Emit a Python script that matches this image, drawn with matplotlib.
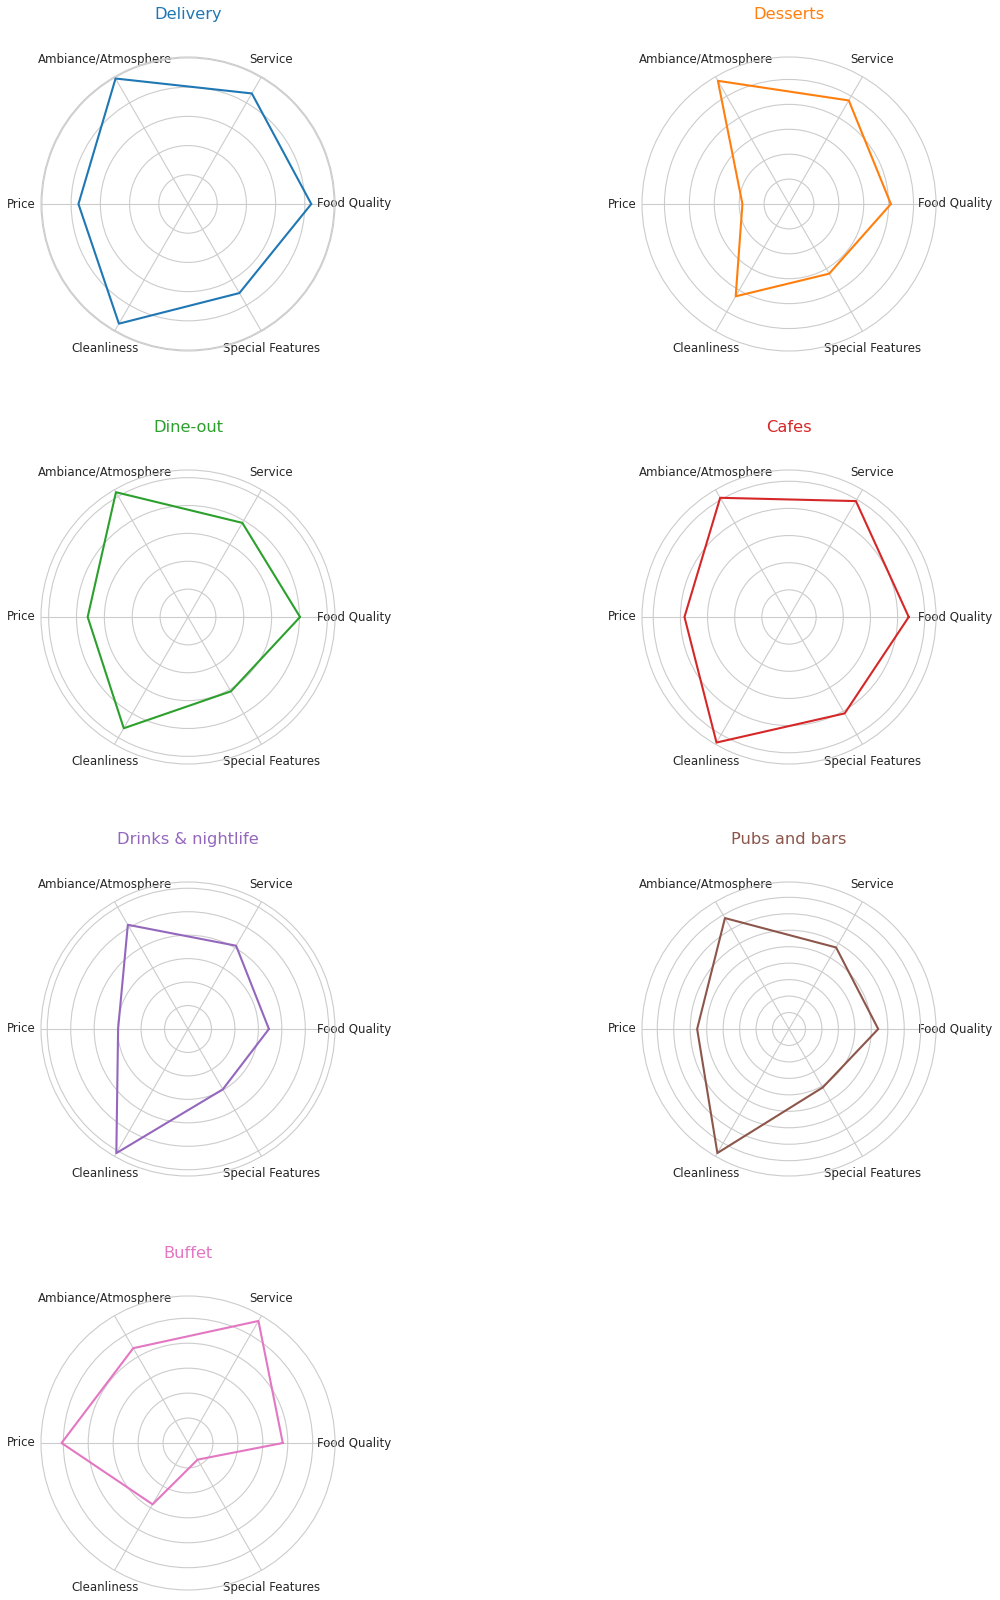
import numpy as np
import matplotlib
matplotlib.use('Agg')
import matplotlib.pyplot as plt
from matplotlib.ticker import NullFormatter
import seaborn as sns

categories = ['Food Quality', 'Service', 'Ambiance/Atmosphere', 'Price',
              'Cleanliness', 'Special Features']
cuisines = ['Delivery', 'Desserts', 'Dine-out', 'Cafes',
            'Drinks & nightlife', 'Pubs and bars', 'Buffet']

delivery = [4.22, 4.37, 4.96, 3.75, 4.73, 3.52]
desserts = [4.09, 4.80, 5.71, 1.87, 4.28, 3.23]
dine_out = [4.02, 3.90, 5.17, 3.60, 4.61, 3.08]
cafes = [4.41, 4.93, 5.07, 3.85, 5.34, 4.10]
drinks_nightlife = [3.45, 4.10, 5.13, 2.98, 6.11, 2.97]
pubs_and_bars = [2.71, 2.86, 3.89, 2.79, 4.35, 2.05]
buffet = [3.80, 5.65, 4.39, 5.07, 2.84, 0.77]

series = [delivery, desserts, dine_out, cafes, drinks_nightlife, pubs_and_bars, buffet]
colors = ['#1f77b4', '#ff7f0e', '#2ca02c', '#d62728', '#9467bd', '#8c564b', '#e377c2']

sns.set_style('whitegrid')
plt.rcParams['font.family'] = ['DejaVu Sans']

W, H = 1000, 1600
fig = plt.figure(figsize=(W / 100, H / 100), dpi=100)
centers_x = [188, 789]
centers_y = [204, 617, 1029, 1443]
R = 147

angles = np.linspace(0, 2 * np.pi, len(categories), endpoint=False)
for i, (name, vals, c) in enumerate(zip(cuisines, series, colors)):
    row, col = divmod(i, 2)
    cx, cy = centers_x[col], centers_y[row]
    ax = fig.add_axes([(cx - R) / W, 1 - (cy + R) / H, 2 * R / W, 2 * R / H],
                      projection='polar')
    a = np.concatenate([angles, angles[:1]])
    v = np.concatenate([vals, vals[:1]])
    ax.plot(a, v, color=c, linewidth=1.5)
    ax.set_xticks(angles)
    ax.set_xticklabels(categories, fontsize=8.5, color='.15')
    ax.yaxis.set_major_formatter(NullFormatter())
    ax.set_title(name, color=c, fontsize=11.7, y=1.1)

fig.savefig('out.png', dpi=100)
